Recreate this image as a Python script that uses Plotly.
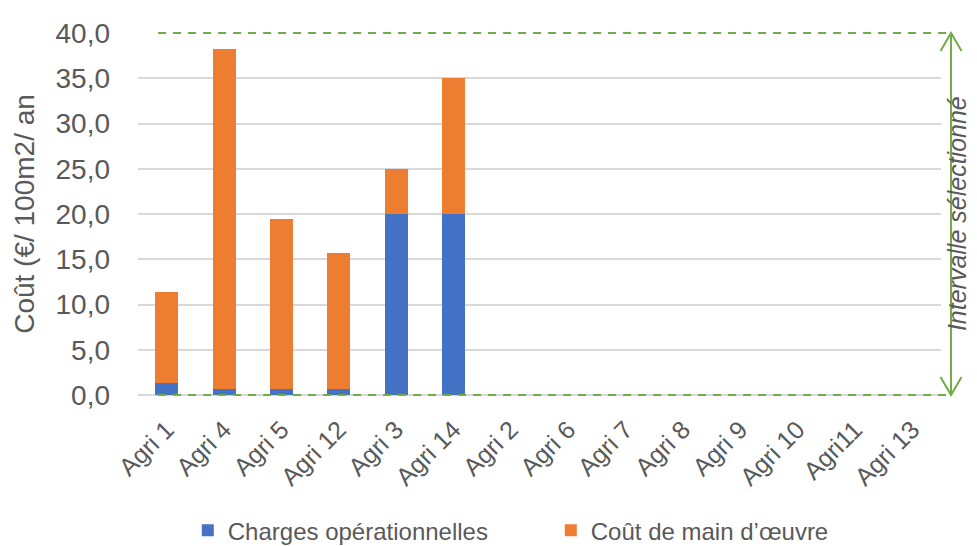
import plotly.graph_objects as go

categories = ["Agri 1", "Agri 4", "Agri 5", "Agri 12", "Agri 3", "Agri 14", "Agri 2",
              "Agri 6", "Agri 7", "Agri 8", "Agri 9", "Agri 10", "Agri11", "Agri 13"]
charges_ops = [1.3, 0.7, 0.7, 0.7, 20.0, 20.0, 0, 0, 0, 0, 0, 0, 0, 0]
main_oeuvre = [10.1, 37.5, 18.8, 15.0, 5.0, 15.0, 0, 0, 0, 0, 0, 0, 0, 0]
series_names = ["Charges opérationnelles", "Coût de main d’œuvre"]
interval = [0.0, 40.0]
interval_label = "Intervalle sélectionné"
y_title = "Coût (€/ 100m2/ an"
y_ticks = [0, 5, 10, 15, 20, 25, 30, 35, 40]
y_range = [0, 40]

BLUE = "#4472C4"
ORANGE = "#ED7D31"
GREEN = "#70AD47"
GRID = "#D9D9D9"
TEXT = "#595959"
FONT = "Arial, Liberation Sans, sans-serif"

fig = go.Figure()
fig.add_trace(go.Bar(x=categories, y=charges_ops, name=series_names[0],
                     marker=dict(color=BLUE, line=dict(width=0))))
fig.add_trace(go.Bar(x=categories, y=main_oeuvre, name=series_names[1],
                     marker=dict(color=ORANGE, line=dict(width=0))))


def to_paper(v):
    return (v - y_range[0]) / (y_range[1] - y_range[0])


# interval guide lines (dashed) and double arrow (paper refs so they are not clipped)
x_start = 0.025
x_arrow = 1.0125
head_w = 0.0131
head_h = 0.05
lo, hi = to_paper(interval[0]), to_paper(interval[1])
for yv in (lo, hi):
    fig.add_shape(type="line", xref="paper", yref="paper", x0=x_start, x1=x_arrow,
                  y0=yv, y1=yv, line=dict(color=GREEN, width=2, dash="8px,7px"))
fig.add_shape(type="line", xref="paper", yref="paper", x0=x_arrow, x1=x_arrow,
              y0=lo, y1=hi, line=dict(color=GREEN, width=2))
fig.add_shape(type="path", xref="paper", yref="paper",
              path=f"M {x_arrow-head_w},{hi-head_h} L {x_arrow},{hi} L {x_arrow+head_w},{hi-head_h}",
              line=dict(color=GREEN, width=2))
fig.add_shape(type="path", xref="paper", yref="paper",
              path=f"M {x_arrow-head_w},{lo+head_h} L {x_arrow},{lo} L {x_arrow+head_w},{lo+head_h}",
              line=dict(color=GREEN, width=2))
fig.add_annotation(text=interval_label, xref="paper", yref="paper", x=1.04,
                   y=(lo + hi) / 2, textangle=-90, showarrow=False,
                   font=dict(family=FONT, size=25, color=TEXT, style="italic"))

fig.update_layout(
    barmode="stack",
    bargap=0.6,
    width=977, height=546,
    margin=dict(l=130, r=44, t=25, b=159, autoexpand=False),
    paper_bgcolor="white", plot_bgcolor="white",
    separators=", ",
    font=dict(family=FONT, color=TEXT),
    showlegend=True,
    legend=dict(orientation="h", x=0.062, xanchor="left", y=-0.375, yanchor="middle",
                font=dict(size=24, color=TEXT), entrywidth=318, entrywidthmode="pixels",
                traceorder="normal"),
)
fig.update_xaxes(tickangle=-45, tickfont=dict(size=25, color=TEXT), showgrid=False,
                 showline=False, ticks="", ticklabelstandoff=14, automargin=False)
fig.update_yaxes(range=y_range, tickvals=y_ticks, tickformat=".1f",
                 tickfont=dict(size=28, color=TEXT), showgrid=True, gridcolor=GRID,
                 gridwidth=1.5, zeroline=True, zerolinecolor=GRID, zerolinewidth=1.5,
                 ticks="", ticklabelstandoff=27, automargin=False,
                 title=dict(text=y_title, font=dict(size=28, color=TEXT), standoff=12))

fig.write_html("out.html")
